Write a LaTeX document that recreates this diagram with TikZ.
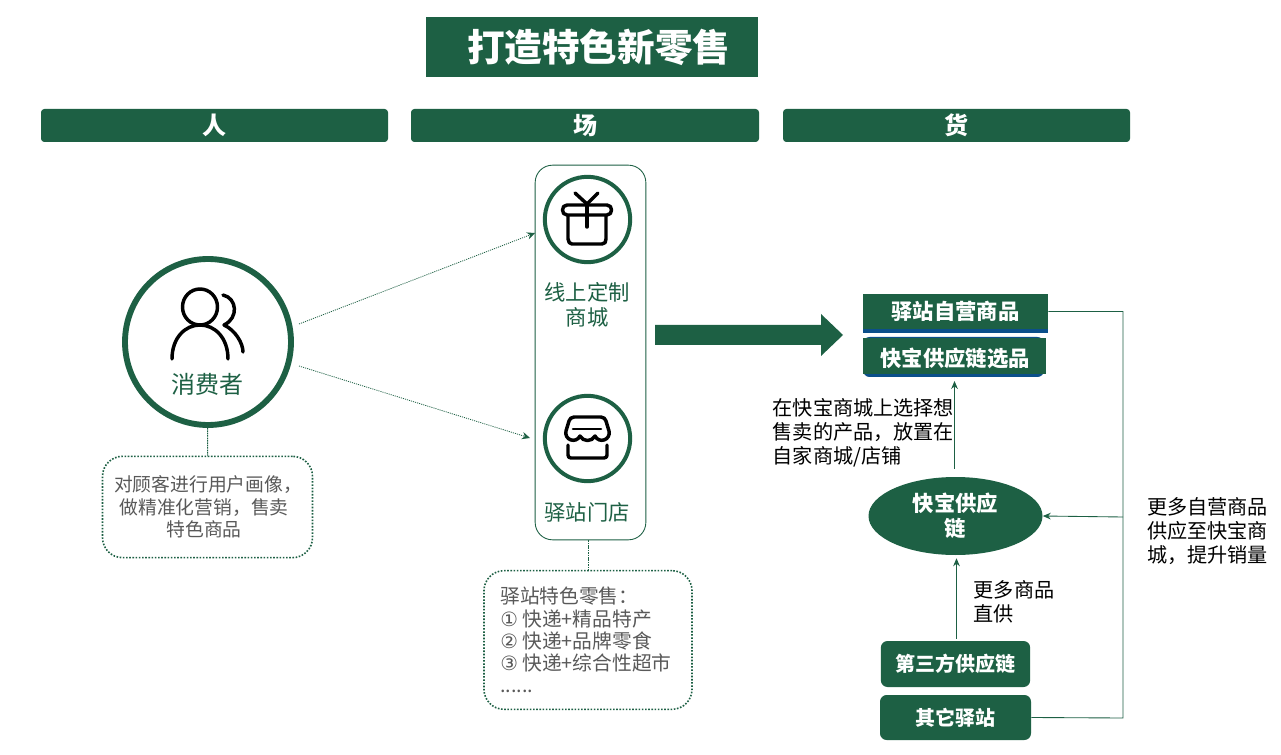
\documentclass[tikz,border=0pt]{standalone}
\usepackage{fontspec}
\setmainfont{Noto Sans CJK SC}
\newfontfamily\symfont{DejaVu Sans}
\usetikzlibrary{arrows.meta,calc,shapes.geometric}
\definecolor{dg}{HTML}{1D6044}
\definecolor{tg}{HTML}{595959}
\definecolor{bl}{HTML}{0B4F8A}
\newcommand{\pxf}[2]{\fontsize{#1}{#2}\selectfont}
\tikzset{
 x=0.75pt,y=-0.75pt,
 hdr/.style={fill=dg,rounded corners=2.5pt,minimum height=24.75pt,text=white,font=\pxf{18}{20}\bfseries,inner sep=0pt},
 gbox/.style={fill=dg,rounded corners=5pt,text=white,font=\pxf{15}{18}\bfseries,inner sep=0pt},
 note/.style={draw=dg,line width=1.2pt,dash pattern=on 1.2pt off 1.2pt,rounded corners=15pt,text=tg,inner sep=0pt},
 thin1/.style={draw=dg,line width=0.65pt},
 stem/.style={draw=dg,line width=0.75pt,dash pattern=on 1.2pt off 0.6pt},
 dotarrow/.style={draw=dg,line width=0.6pt,dash pattern=on 0.8pt off 0.8pt,-{Stealth[length=6pt,width=5.5pt]}},
 arr/.style={draw=dg,line width=0.65pt,-{Stealth[length=6pt,width=5pt]}},
 ring/.style={circle,draw=dg,inner sep=0pt},
 icon/.style={black,line width=2.6pt,line cap=round,line join=round},
 lbl/.style={text=black,font=\pxf{15.1}{18.2},align=left,inner sep=0pt,anchor=north west},
}
\begin{document}
\begin{tikzpicture}
\useasboundingbox (0,0) rectangle (1281,755);
\fill[white] (0,0) rectangle (1281,755);
% title
\node[fill=dg,minimum width=249pt,minimum height=45pt,inner sep=0pt,text=white,font=\pxf{28.2}{32}\bfseries] (title) at (592,47) {\hspace{10pt}\raisebox{-2.2pt}{打造特色新零售}};
% headers
\node[hdr,minimum width=260.25pt] (h1) at (214.5,125.5) {\raisebox{-1.5pt}{人}};
\node[hdr,minimum width=261pt] (h2) at (585,125.5) {\raisebox{-1.5pt}{场}};
\node[hdr,minimum width=260.25pt] (h3) at (956.5,125.5) {\raisebox{-1.5pt}{货}};
% consumer
\node[ring,line width=4.4pt,minimum size=124.5pt] (cons) at (208,342) {};
\draw[icon] (172,359) .. controls (172,338) and (185,325) .. (200,325) .. controls (215,325) and (228,338) .. (228,359);
\draw[icon] (200,307) circle[x radius=17.5,y radius=18];
\draw[icon] (223,295) .. controls (237,298) and (239,318) .. (224,325) .. controls (235,330) and (243,343) .. (243,352);
\node[text=dg,font=\pxf{18}{20},inner sep=0pt] (constxt) at (207.5,384) {消费者};
\node[note,minimum width=157.5pt,minimum height=76pt] (n1) at (207.5,507) {};
\node[text=tg,align=center,font=\pxf{14.1}{17},inner sep=0pt] (n1t) at (204,507) {\hspace{6pt}对顾客进行用户画像，\\做精准化营销，售卖\\特色商品};
\draw[stem] (cons) -- (n1);
% scene panel
\node[draw=dg,line width=0.65pt,rounded corners=13pt,minimum width=83pt,minimum height=281pt,inner sep=0pt] (panel) at (590.5,352.5) {};
\node[ring,line width=3pt,minimum size=64pt] (r1) at (587.5,219.5) {};
\node[ring,line width=3pt,minimum size=64pt] (r2) at (587.5,438.5) {};
% gift icon
\draw[icon] (568,216) -- (568,239) .. controls (568,242) and (570,244) .. (572,244) -- (602,244) .. controls (605,244) and (606,242) .. (606,239) -- (606,216);
\draw[icon] (567,205) -- (607,205) .. controls (613,205) and (613,215) .. (607,215) -- (567,215) .. controls (561,215) and (561,205) .. (567,205);
\draw[icon] (587,205) -- (587,227);
\draw[icon] (575,193) -- (587,204) -- (598,193);
% store icon
\draw[icon] (574,417) -- (601,417) .. controls (604,417) and (605,419) .. (606,421) -- (609,431) .. controls (611,440) and (599,444) .. (595,436) .. controls (592,442) and (583,442) .. (580,436) .. controls (576,444) and (564,440) .. (566,431) -- (569,421) .. controls (570,419) and (571,417) .. (574,417);
\draw[icon,line width=1.9pt] (573,429) -- (601,429);
\draw[icon] (568,445) -- (568,455) .. controls (568,457) and (569,458) .. (571,458) -- (604,458) .. controls (606,458) and (607,457) .. (607,455) -- (607,445);
\node[text=dg,font=\pxf{16}{18.8},align=center,inner sep=0pt] (t1) at (587,305) {线上定制\\商城};
\node[text=dg,font=\pxf{16}{18.8},inner sep=0pt] (t2) at (587,512) {驿站门店};
\node[note,minimum width=156pt,minimum height=104pt] (n2) at (588,640) {};
\node[text=tg,font=\pxf{14.8}{16.6},align=left,inner sep=0pt,anchor=north west] (n2t) at (500,587) {驿站特色零售：\\{\symfont ①} 快递+精品特产\\{\symfont ②} 快递+品牌零食\\{\symfont ③} 快递+综合性超市\\......};
\draw[stem] (panel.south -| n2.north) -- (n2.north);
% dotted arrows
\coordinate (a1) at (299,324);
\coordinate (a2) at (535,233);
\coordinate (a3) at (299,366);
\coordinate (a4) at (530,438);
\draw[dotarrow] (a1) -- (a2);
\draw[dotarrow] (a3) -- (a4);
% block arrow
\fill[dg] (655,325) -- (821,325) -- (821,314) -- (843,335) -- (821,356) -- (821,345) -- (655,345) -- cycle;
% goods
\fill[bl] (863,294) rectangle (1048,333);
\fill[bl,rounded corners=5pt] (863,337) rectangle (1044,377);
\fill[dg] (863,338) rectangle (1046,374);
\node[fill=dg,minimum width=138.75pt,minimum height=26.25pt,inner sep=0pt,text=white,font=\pxf{16}{18}\bfseries] (g1) at (955.5,311.5) {驿站自营商品};
\node[text=white,font=\pxf{16}{18}\bfseries,inner sep=0pt] (g2) at (955,358) {快宝供应链选品};
\node[ellipse,fill=dg,minimum width=130.5pt,minimum height=58.5pt,inner sep=0pt,text=white,font=\pxf{16}{18.6}\bfseries,align=center] (e) at (955.5,516) {快宝供应\\链};
\node[gbox,minimum width=112pt,minimum height=34.5pt] (s1) at (955.5,664) {第三方供应链};
\node[gbox,minimum width=113.25pt,minimum height=33.75pt] (s2) at (955.5,717.5) {其它驿站};
% connectors
\draw[arr] ($(s1.north)+(1,-2)$) -- ($(e.south)+(1,3)$);
\draw[arr] ($(e.north)+(-1,-8)$) -- (954.5,381);
\coordinate (c1) at (1123,311.5);
\coordinate (c2) at (1123,718);
\coordinate (c3) at (1123,517);
\draw[thin1] (s2.east) -- (c2) -- (c1) -- (g1.east);
\draw[arr] (c3) -- (e.east);
% labels
\node[lbl] (l1) at (772.5,398) {在快宝商城上选择想\\售卖的产品，放置在\\自家商城/店铺};
\node[lbl] (l2) at (973.5,580) {更多商品\\直供};
\node[lbl] (l3) at (1147,497) {更多自营商品\\供应至快宝商\\城，提升销量};
\end{tikzpicture}
\end{document}
